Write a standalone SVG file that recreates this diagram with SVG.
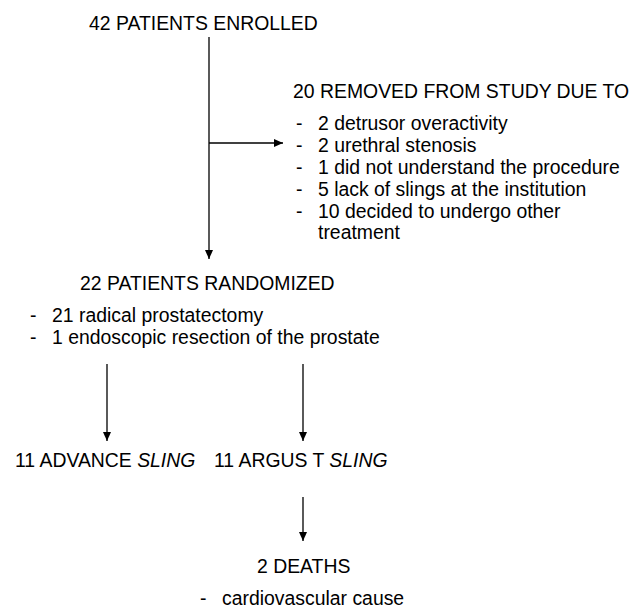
<svg xmlns="http://www.w3.org/2000/svg" width="633" height="608" viewBox="0 0 633 608">
<defs>
<marker id="ah" markerWidth="10" markerHeight="10" refX="9" refY="5" orient="auto" markerUnits="userSpaceOnUse">
<path d="M0,1 L9,5 L0,9 Z" fill="#000"/>
</marker>
<style>
text{font-family:"Liberation Sans",Arial,sans-serif;font-size:19.4px;fill:#000}
.c{stroke:#000;stroke-width:1.3;fill:none;marker-end:url(#ah)}
</style>
</defs>
<rect width="633" height="608" fill="#fff"/>
<g id="connectors">
<line class="c" x1="209" y1="37" x2="209" y2="259"/>
<line class="c" x1="209" y1="143" x2="283" y2="143"/>
<line class="c" x1="107" y1="364" x2="107" y2="441"/>
<line class="c" x1="303" y1="364" x2="303" y2="441"/>
<line class="c" x1="303" y1="497" x2="303" y2="541"/>
</g>
<g id="enrolled"><text x="89" y="30">42 PATIENTS ENROLLED</text></g>
<g id="removed">
<text x="293" y="98">20 REMOVED FROM STUDY DUE TO</text>
<text x="296" y="130">-</text><text x="318" y="130">2 detrusor overactivity</text>
<text x="296" y="152">-</text><text x="318" y="152">2 urethral stenosis</text>
<text x="296" y="174">-</text><text x="318" y="174">1 did not understand the procedure</text>
<text x="296" y="196">-</text><text x="318" y="196">5 lack of slings at the institution</text>
<text x="296" y="218">-</text><text x="318" y="218">10 decided to undergo other</text>
<text x="318" y="239">treatment</text>
</g>
<g id="randomized">
<text x="80" y="290">22 PATIENTS RANDOMIZED</text>
<text x="30" y="322">-</text><text x="52" y="322">21 radical prostatectomy</text>
<text x="30" y="344">-</text><text x="52" y="344">1 endoscopic resection of the prostate</text>
</g>
<g id="advance"><text x="15" y="467">11 ADVANCE <tspan font-style="italic">SLING</tspan></text></g>
<g id="argus"><text x="214" y="467">11 ARGUS T <tspan font-style="italic">SLING</tspan></text></g>
<g id="deaths">
<text x="257" y="573">2 DEATHS</text>
<text x="200" y="605">-</text><text x="222" y="605">cardiovascular cause</text>
</g>
</svg>
